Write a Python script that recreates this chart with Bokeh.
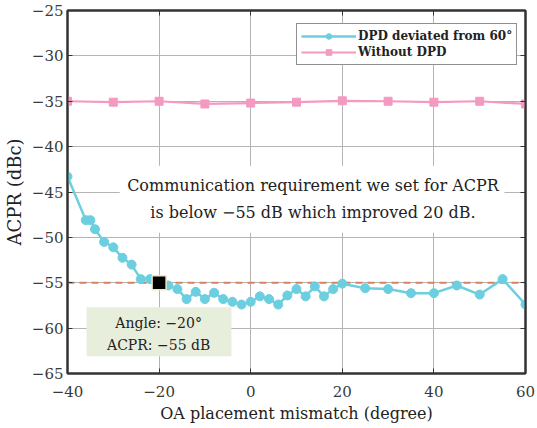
from bokeh.plotting import figure
from bokeh.models import Range1d, LinearAxis, FixedTicker, Legend, LegendItem, CustomJSTickFormatter
from bokeh.embed import file_html
from bokeh.resources import INLINE
from bokeh.core.properties import value

# ACPR vs. OA placement mismatch
angle_dpd = [-40, -36, -35, -34, -32, -30, -28, -26, -24, -22, -20, -18, -16, -14, -12,
             -10, -8, -6, -4, -2, 0, 2, 4, 6, 8, 10, 12, 14, 16, 18, 20,
             25, 30, 35, 40, 45, 50, 55, 60]
acpr_dpd = [-43.3, -48.1, -48.1, -49.1, -50.5, -51.1, -52.25, -53.0, -54.6, -54.6, -55.0,
            -55.3, -55.7, -56.8, -56.0, -56.8, -56.1, -56.8, -57.1, -57.4, -57.1, -56.5,
            -56.8, -57.4, -56.4, -55.7, -56.5, -55.4, -56.5, -55.7, -55.1,
            -55.6, -55.7, -56.15, -56.15, -55.3, -56.3, -54.6, -57.4]

angle_nodpd = [-40, -30, -20, -10, 0, 10, 20, 30, 40, 50, 60]
acpr_nodpd = [-35.0, -35.1, -35.0, -35.3, -35.2, -35.1, -34.95, -35.0, -35.1, -35.0, -35.3]

threshold_acpr = -55
threshold_span = [-40, 60]
marker_angle = -20
marker_acpr = -55

x_ticks = [-40, -20, 0, 20, 40, 60]
y_ticks = [-65, -60, -55, -50, -45, -40, -35, -30, -25]

SERIF = "DejaVu Serif"
CYAN = "#6ccfe0"
PINK = "#f49ac1"
AXIS = "#333333"


def minus(v):
    return str(v).replace("-", "\u2212")


p = figure(width=537, height=428, output_backend="svg", toolbar_location=None,
           x_range=Range1d(-40, 60), y_range=Range1d(-65, -25),
           min_border_left=66, min_border_right=12, min_border_top=10, min_border_bottom=55)
p.background_fill_color = "white"
p.border_fill_color = "white"
p.outline_line_color = AXIS
p.outline_line_width = 2

# main axes
for ax, ticks in ((p.xaxis[0], x_ticks), (p.yaxis[0], y_ticks)):
    ax.ticker = FixedTicker(ticks=ticks)
    ax.major_label_overrides = {t: minus(t) for t in ticks}
    ax.major_label_text_font = SERIF
    ax.major_label_text_font_size = "15px"
    ax.major_label_text_color = "#3a3a3a"
    ax.axis_label_text_font = SERIF
    ax.axis_label_text_font_style = "normal"
    ax.axis_label_text_color = "#222222"
    ax.axis_line_color = AXIS
    ax.axis_line_width = 2
    ax.major_tick_in = 5
    ax.major_tick_out = 0
    ax.major_tick_line_color = AXIS
    ax.minor_tick_line_color = None

p.xaxis.axis_label = "OA placement mismatch (degree)"
p.yaxis.axis_label = "ACPR (dBc)"
p.xaxis.axis_label_text_font_size = "16px"
p.yaxis.axis_label_text_font_size = "18px"
p.xaxis.major_label_standoff = 12
p.yaxis.major_label_standoff = 4
p.xaxis.axis_label_standoff = 4
p.yaxis.axis_label_standoff = 4

# mirrored ticks (no labels) on top and right
for loc, ticks in (("right", y_ticks), ("above", x_ticks)):
    ax = LinearAxis(ticker=FixedTicker(ticks=ticks),
                    formatter=CustomJSTickFormatter(code="return ''"))
    ax.major_label_standoff = 0
    ax.axis_line_color = AXIS
    ax.axis_line_width = 2
    ax.major_tick_in = 5
    ax.major_tick_out = 0
    ax.major_tick_line_color = AXIS
    ax.minor_tick_line_color = None
    p.add_layout(ax, loc)

p.xgrid.ticker = FixedTicker(ticks=x_ticks)
p.ygrid.ticker = FixedTicker(ticks=y_ticks)
for g in (p.xgrid[0], p.ygrid[0]):
    g.grid_line_color = "#b4b4b4"
    g.grid_line_width = 1

# white panel behind the requirement note
p.quad(left=-28.6, right=55.4, top=-42.1, bottom=-49.5, fill_color="white", line_color=None)

# requirement threshold
p.line(threshold_span, [threshold_acpr, threshold_acpr], line_color="#d9825f",
       line_width=2, line_dash="7 5")

# series
l1 = p.line(angle_dpd, acpr_dpd, line_color=CYAN, line_width=2.5)
m1 = p.scatter(angle_dpd, acpr_dpd, marker="circle", size=9, fill_color=CYAN, line_color=CYAN)
l2 = p.line(angle_nodpd, acpr_nodpd, line_color=PINK, line_width=2.2)
m2 = p.scatter(angle_nodpd, acpr_nodpd, marker="square", size=8, fill_color=PINK, line_color=PINK)

# highlighted point
p.scatter([marker_angle], [marker_acpr], marker="square", size=14, fill_color="black",
          line_color="#efe7c3", line_width=1.5)

# note box for the highlighted point
p.quad(left=-35.85, right=-4.2, top=-57.7, bottom=-63.1, fill_color="#e8eedc", line_color=None)
p.text(x=[-20.1, -20.1], y=[-59.4, -61.9],
       text=["Angle: \u221220\u00b0", "ACPR: \u221255 dB"],
       text_font=value(SERIF), text_font_size="14px", text_color="#222222",
       text_align="center", text_baseline="middle")

p.text(x=[13.6, 13.6], y=[-44.3, -47.25],
       text=["Communication requirement we set for ACPR",
             "is below \u221255 dB which improved 20 dB."],
       text_font=value(SERIF), text_font_size="16px", text_color="#222222",
       text_align="center", text_baseline="middle")

legend = Legend(items=[
    LegendItem(label="DPD deviated from 60\u00b0", renderers=[l1, m1]),
    LegendItem(label="Without DPD", renderers=[l2, m2]),
], location=(229, 308))
legend.label_text_font = SERIF
legend.label_text_font_style = "bold"
legend.label_text_font_size = "12px"
legend.label_text_color = "#222222"
legend.glyph_width = 55
legend.glyph_height = 14
legend.label_standoff = 2
legend.padding = 4
legend.spacing = 0
legend.label_height = 16
legend.border_line_color = "#222222"
legend.border_line_width = 1
legend.background_fill_alpha = 1
p.add_layout(legend)

open("out.html", "w").write(file_html(p, INLINE))
